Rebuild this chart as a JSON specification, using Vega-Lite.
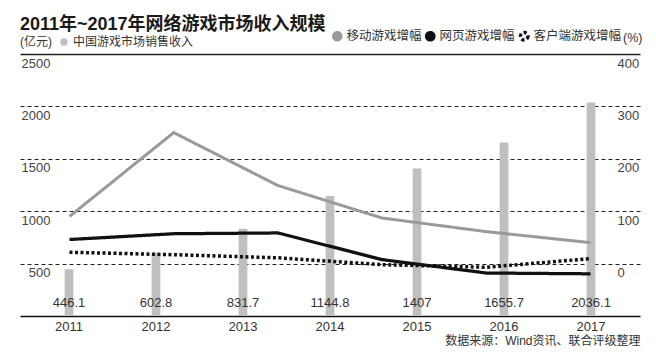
{
  "$schema": "https://vega.github.io/schema/vega-lite/v6.json",
  "width": 620,
  "height": 262,
  "autosize": {"type": "none"},
  "padding": {"left": 20, "top": 54, "right": 16, "bottom": 47},
  "background": "white",
  "config": {
    "view": {"stroke": null},
    "font": "Liberation Sans, Noto Sans CJK SC"
  },
  "title": {
    "text": "2011年~2017年网络游戏市场收入规模",
    "anchor": "start",
    "frame": "group",
    "fontSize": 18,
    "fontWeight": "bold",
    "color": "#1a1a1a",
    "font": "Liberation Sans, Noto Sans CJK SC",
    "offset": 0,
    "dy": 4
  },
  "datasets": {
    "revenue": [
      {"year": "2011", "revenue": 446.1, "series": "中国游戏市场销售收入"},
      {"year": "2012", "revenue": 602.8, "series": "中国游戏市场销售收入"},
      {"year": "2013", "revenue": 831.7, "series": "中国游戏市场销售收入"},
      {"year": "2014", "revenue": 1144.8, "series": "中国游戏市场销售收入"},
      {"year": "2015", "revenue": 1407, "series": "中国游戏市场销售收入"},
      {"year": "2016", "revenue": 1655.7, "series": "中国游戏市场销售收入"},
      {"year": "2017", "revenue": 2036.1, "series": "中国游戏市场销售收入"}
    ],
    "growth": [
      {"period": "2012", "series": "移动游戏增幅", "growth": 90},
      {"period": "2013", "series": "移动游戏增幅", "growth": 250},
      {"period": "2014", "series": "移动游戏增幅", "growth": 149},
      {"period": "2015", "series": "移动游戏增幅", "growth": 87},
      {"period": "2016", "series": "移动游戏增幅", "growth": 61},
      {"period": "2017", "series": "移动游戏增幅", "growth": 40},
      {"period": "2012", "series": "网页游戏增幅", "growth": 46},
      {"period": "2013", "series": "网页游戏增幅", "growth": 57},
      {"period": "2014", "series": "网页游戏增幅", "growth": 58.5},
      {"period": "2015", "series": "网页游戏增幅", "growth": 7.6},
      {"period": "2016", "series": "网页游戏增幅", "growth": -18},
      {"period": "2017", "series": "网页游戏增幅", "growth": -19.5},
      {"period": "2012", "series": "客户端游戏增幅", "growth": 21.6},
      {"period": "2013", "series": "客户端游戏增幅", "growth": 17},
      {"period": "2014", "series": "客户端游戏增幅", "growth": 11},
      {"period": "2015", "series": "客户端游戏增幅", "growth": -2},
      {"period": "2016", "series": "客户端游戏增幅", "growth": -7},
      {"period": "2017", "series": "客户端游戏增幅", "growth": 9.5}
    ]
  },
  "layer": [
    {
      "layer": [
        {
          "data": {"name": "revenue"},
          "mark": {"type": "bar"},
          "encoding": {
            "x": {
              "field": "year",
              "type": "ordinal",
              "scale": {"paddingInner": 0.9, "paddingOuter": 0.513},
              "axis": {
                "title": "数据来源：Wind资讯、联合评级整理",
                "titleAnchor": "end",
                "titleFontSize": 12,
                "titleFontWeight": "normal",
                "titleColor": "#333333",
                "titlePadding": 2,
                "labelFontSize": 13,
                "labelColor": "#333333",
                "labelPadding": 4,
                "labelAngle": 0,
                "ticks": false,
                "domainColor": "#111111",
                "domainWidth": 1.5,
                "grid": false
              }
            },
            "y": {
              "field": "revenue",
              "type": "quantitative",
              "scale": {"domain": [0, 2500], "nice": false},
              "axis": {
                "values": [500, 1000, 1500, 2000, 2500],
                "format": "d",
                "title": null,
                "domain": false,
                "ticks": false,
                "grid": true,
                "gridColor": "#222222",
                "gridWidth": {"condition": {"test": "datum.value === 2500", "value": 1.3}, "value": 1},
                "gridDash": {"condition": {"test": "datum.value === 2500", "value": [1, 0]}, "value": [4, 3]},
                "labelAlign": "right",
                "labelBaseline": "top",
                "labelPadding": -30,
                "labelOffset": 3,
                "labelFontSize": 13,
                "labelColor": "#444444",
                "labelFlush": false,
                "labelOverlap": false
              }
            },
            "fill": {
              "field": "series",
              "type": "nominal",
              "scale": {"range": ["#bfbfbf"]},
              "legend": {
                "orient": "none",
                "legendX": 0,
                "legendY": -18,
                "direction": "horizontal",
                "title": "(亿元)",
                "titleOrient": "left",
                "titleFontSize": 12,
                "titleFontWeight": "normal",
                "titleColor": "#333333",
                "titlePadding": 6,
                "symbolType": "circle",
                "symbolSize": 56,
                "labelFontSize": 12,
                "labelColor": "#333333",
                "labelOffset": 3
              }
            }
          }
        },
        {
          "data": {"name": "revenue"},
          "mark": {"type": "text", "fontSize": 13, "color": "#333333", "baseline": "middle", "dy": -13},
          "encoding": {
            "x": {"field": "year", "type": "ordinal"},
            "y": {"datum": 0},
            "text": {"field": "revenue", "type": "nominal"}
          }
        }
      ]
    },
    {
      "data": {"name": "growth"},
      "mark": {"type": "line", "strokeCap": "butt"},
      "encoding": {
        "x": {
          "field": "period",
          "type": "ordinal",
          "scale": {"type": "point", "padding": 0.475},
          "axis": null
        },
        "y": {
          "field": "growth",
          "type": "quantitative",
          "scale": {"domain": [-100, 400], "nice": false},
          "axis": {
            "orient": "right",
            "values": [0, 100, 200, 300, 400],
            "title": null,
            "domain": false,
            "ticks": false,
            "grid": false,
            "labelAlign": "left",
            "labelBaseline": "top",
            "labelPadding": -23,
            "labelOffset": 3,
            "labelFontSize": 13,
            "labelColor": "#444444",
            "labelFlush": false,
            "labelOverlap": false
          }
        },
        "stroke": {
          "field": "series",
          "type": "nominal",
          "sort": ["移动游戏增幅", "网页游戏增幅", "客户端游戏增幅"],
          "scale": {"domain": ["移动游戏增幅", "网页游戏增幅", "客户端游戏增幅"], "range": ["#9a9a9a", "#111111", "#111111"]},
          "legend": {
            "orient": "none",
            "legendX": 311,
            "legendY": -24,
            "direction": "horizontal",
            "gridAlign": "none",
            "title": "(%)",
            "titleOrient": "right",
            "titleFontSize": 12.5,
            "titleFontWeight": "normal",
            "titleColor": "#333333",
            "titlePadding": 2,
            "symbolType": "circle",
            "symbolSize": 56,
            "labelFontSize": 12.5,
            "labelColor": "#333333",
            "labelOffset": 3,
            "columnPadding": -2,
            "encode": {
              "symbols": {
                "update": {
                  "fill": {"signal": "datum.value === '客户端游戏增幅' ? '#ffffff' : (datum.value === '移动游戏增幅' ? '#9a9a9a' : '#111111')"},
                  "strokeDash": {"signal": "datum.value === '客户端游戏增幅' ? [2, 1.5] : [1, 0]"},
                  "strokeWidth": {"value": 1.8},
                  "opacity": {"value": 1}
                }
              }
            }
          }
        },
        "strokeDash": {
          "field": "series",
          "type": "nominal",
          "scale": {"domain": ["移动游戏增幅", "网页游戏增幅", "客户端游戏增幅"], "range": [[1, 0], [1, 0], [3, 2.5]]},
          "legend": null
        },
        "strokeWidth": {
          "field": "series",
          "type": "nominal",
          "scale": {"domain": ["移动游戏增幅", "网页游戏增幅", "客户端游戏增幅"], "range": [3, 3.5, 3]},
          "legend": null
        }
      }
    }
  ],
  "resolve": {"scale": {"x": "independent", "y": "independent"}}
}
